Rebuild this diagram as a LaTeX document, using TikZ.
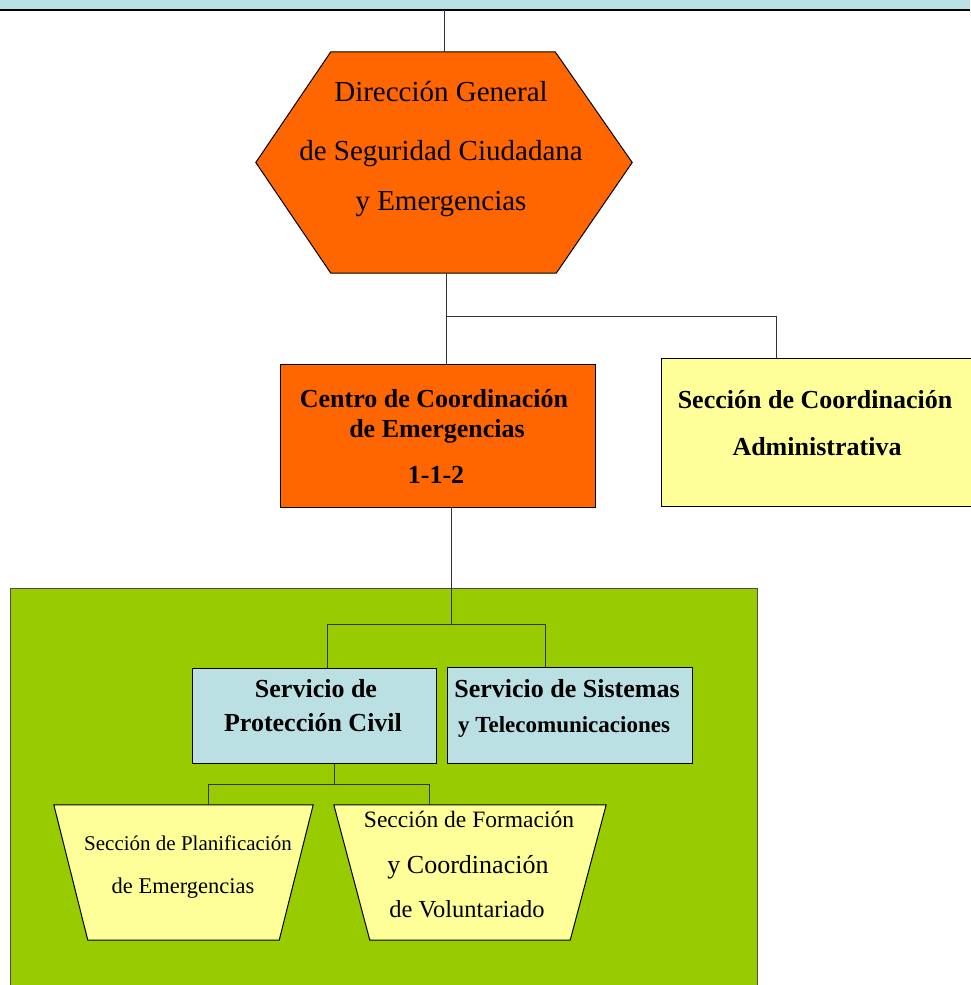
\documentclass[tikz,border=0pt]{standalone}
\usepackage{fontspec}
\setmainfont{Liberation Serif}

\definecolor{naranja}{HTML}{FF6600}
\definecolor{amarillo}{HTML}{FFFF99}
\definecolor{celeste}{HTML}{BBE0E3}
\definecolor{verde}{HTML}{99CC00}

\begin{document}
\begin{tikzpicture}[x=1pt,y=-1pt,
    caja/.style={draw, line width=1pt, rectangle, inner sep=0pt, anchor=north west},
    marco/.style={rectangle, inner sep=0pt},
    borde/.style={line width=1pt},
    linea/.style={line width=1pt, draw=black!80},
    texto/.style={anchor=base, inner sep=0pt, font=\fontsize{#1}{#1}\selectfont},
    negrita/.style={anchor=base, inner sep=0pt, font=\fontsize{#1}{#1}\selectfont\bfseries}]
    \useasboundingbox (0,0) rectangle (970,985);

    % Franja superior
    \fill[celeste] (0,0) rectangle (970,10);
    \draw[line width=1.5pt] (0,10) -- (970,10);
    \coordinate (barra) at (444,10);

    % Direccion General (hexagono)
    \node[marco, minimum width=376pt, minimum height=221pt] (dg) at (444,162.5) {};
    \filldraw[borde, fill=naranja] ([xshift=75pt]dg.north west) -- ([xshift=-77pt]dg.north east)
        -- (dg.east) -- ([xshift=-76pt]dg.south east) -- ([xshift=75pt]dg.south west) -- (dg.west) -- cycle;
    \node[texto=29] (dg1) at (441,101) {Dirección General};
    \node[texto=29] (dg2) at (441,160) {de Seguridad Ciudadana};
    \node[texto=29] (dg3) at (441,210) {y Emergencias};

    % Centro de Coordinacion y Seccion Administrativa
    \node[caja, fill=naranja, minimum width=315pt, minimum height=143pt] (cce) at (280,364) {};
    \node[caja, fill=amarillo, minimum width=330pt, minimum height=148pt] (sca) at (661,358) {};
    \node[negrita=26] (cce1) at (434,407) {Centro de Coordinación};
    \node[negrita=26] (cce2) at (437,437) {de Emergencias};
    \node[negrita=26] (cce3) at (436,483) {1-1-2};
    \node[negrita=26] (sca1) at (815,408) {Sección de Coordinación};
    \node[negrita=26] (sca2) at (817,455) {Administrativa};

    % Area verde
    \filldraw[fill=verde, draw=black!70, line width=1pt] (10,588) rectangle (757,995);

    % Servicios
    \node[caja, fill=celeste, minimum width=244pt, minimum height=95pt] (spc) at (192,668) {};
    \node[caja, fill=celeste, minimum width=245pt, minimum height=96pt] (sst) at (447,667) {};
    \node[negrita=26] (spc1) at (316,697) {Servicio de};
    \node[negrita=26] (spc2) at (313,731) {Protección Civil};
    \node[negrita=26] (sst1) at (567,697) {Servicio de Sistemas};
    \node[negrita=23] (sst2) at (564,732) {y Telecomunicaciones};

    % Secciones (trapecios)
    \node[marco, minimum width=259pt, minimum height=135pt] (spe) at (183.5,872.5) {};
    \node[marco, minimum width=272pt, minimum height=135pt] (sfv) at (470,872.5) {};
    \filldraw[borde, fill=amarillo] (spe.north west) -- (spe.north east)
        -- ([xshift=-34pt]spe.south east) -- ([xshift=34pt]spe.south west) -- cycle;
    \filldraw[borde, fill=amarillo] (sfv.north west) -- (sfv.north east)
        -- ([xshift=-36pt]sfv.south east) -- ([xshift=36pt]sfv.south west) -- cycle;
    \node[texto=21] (spe1) at (188,850) {Sección de Planificación};
    \node[texto=22.5] (spe2) at (183,893) {de Emergencias};
    \node[texto=23.5] (sfv1) at (469,827) {Sección de Formación};
    \node[texto=26] (sfv2) at (468,873) {y Coordinación};
    \node[texto=24.5] (sfv3) at (467,917) {de Voluntariado};

    % Conectores
    \coordinate (r1) at (446,316);
    \coordinate (r2) at (776,316);
    \coordinate (r3) at (451,624);
    \coordinate (r4) at (327,624);
    \coordinate (r5) at (545,624);
    \coordinate (r6) at (334,784);
    \coordinate (r7) at (208,784);
    \coordinate (r8) at (429,784);
    \draw[linea] (barra) -- (dg.north);
    \draw[linea] (dg.south -| r1) -- (r1 |- cce.north);
    \draw[linea] (r1) -- (r2) -- (r2 |- sca.north);
    \draw[linea] (cce.south -| r3) -- (r3);
    \draw[linea] (r4 |- spc.north) -- (r4) -- (r5) -- (r5 |- sst.north);
    \draw[linea] (spc.south -| r6) -- (r6);
    \draw[linea] (r7 |- spe.north) -- (r7) -- (r8) -- (r8 |- sfv.north);
\end{tikzpicture}
\end{document}
